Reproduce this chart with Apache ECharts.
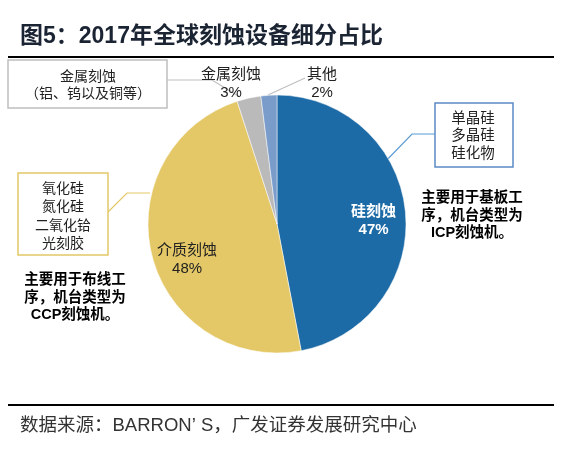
<!DOCTYPE html>
<html>
<head>
<meta charset="utf-8">
<script src="https://cdn.jsdelivr.net/npm/echarts@6/dist/echarts.min.js"></script>
<style>
html,body{margin:0;padding:0;background:#fff;}
#c{width:572px;height:451px;}
</style>
</head>
<body>
<div id="c"></div>
<script>
var categories = ['硅刻蚀', '介质刻蚀', '金属刻蚀', '其他'];
var shares = [47, 48, 3, 2];
var sliceColors = ['#1D6BA6', '#E4C867', '#BABABA', '#7A9CCB'];
var titleText = '图5：2017年全球刻蚀设备细分占比';
var sourceText = '数据来源：BARRON’ S，广发证券发展研究中心';

var FONT = '"Liberation Sans", "Noto Sans CJK SC", sans-serif';
var chart = echarts.init(document.getElementById('c'), null, {renderer: 'canvas'});

var mainData = categories.map(function (n, i) {
  return {name: n, value: shares[i], itemStyle: {color: sliceColors[i]}};
});
var labelData = categories.map(function (n, i) {
  return {
    name: n, value: shares[i],
    label: {
      show: i < 2,
      color: i === 0 ? '#ffffff' : '#222222',
      fontWeight: i === 0 ? 'bold' : 'normal'
    }
  };
});
var outsidePos = {2: [231, 84], 3: [322, 84]};
var insideShift = {0: [-2, 6], 1: [6, 11]};

function txt(text, x, y, opts) {
  opts = opts || {};
  return {
    type: 'text', silent: true,
    style: {
      text: text, x: x, y: y,
      fill: opts.color || '#222',
      fontSize: opts.size || 14,
      fontWeight: opts.weight || 'normal',
      fontFamily: FONT,
      lineHeight: opts.lh || 18,
      textAlign: opts.align || 'center',
      textVerticalAlign: 'middle'
    }
  };
}
function line(points, color, w) {
  return {type: 'polyline', silent: true, shape: {points: points},
    style: {stroke: color, lineWidth: w || 1, fill: null}};
}
function box(x, y, w, h, color) {
  return {type: 'rect', silent: true, shape: {x: x, y: y, width: w, height: h},
    style: {stroke: color, lineWidth: 1.5, fill: '#fff'}};
}

var option = {
  animation: false,
  backgroundColor: '#fff',
  series: [
    {
      type: 'pie',
      center: [277, 224],
      radius: [0, 129],
      startAngle: 90,
      clockwise: true,
      data: mainData,
      itemStyle: {borderColor: '#fff', borderWidth: 0.5},
      label: {
        show: true,
        formatter: function (p) { return p.dataIndex >= 2 ? p.name + '\n' + p.value + '%' : ''; },
        fontSize: 15, lineHeight: 18, color: '#222', fontFamily: FONT
      },
      labelLine: {show: false},
      labelLayout: function (p) {
        var pos = outsidePos[p.dataIndex];
        if (pos) return {x: pos[0], y: pos[1], align: 'center', verticalAlign: 'middle'};
        return {};
      },
      emphasis: {disabled: true}
    },
    {
      type: 'pie',
      center: [277, 224],
      radius: [63, 129],
      startAngle: 90,
      clockwise: true,
      silent: true,
      data: labelData,
      itemStyle: {color: 'rgba(0,0,0,0)'},
      label: {
        position: 'inside',
        formatter: '{b}\n{c}%',
        fontSize: 15, lineHeight: 18, fontFamily: FONT
      },
      labelLine: {show: false},
      labelLayout: function (p) {
        var s = insideShift[p.dataIndex];
        return s ? {dx: s[0], dy: s[1]} : {};
      },
      emphasis: {disabled: true}
    }
  ],
  graphic: [
    txt(titleText, 20, 37, {size: 23, weight: 'bold', color: '#1B2433', align: 'left'}),
    line([[8, 57], [554, 57]], '#000', 2),
    line([[8, 405], [554, 405]], '#000', 2),
    txt(sourceText, 20, 426, {size: 18.5, color: '#333', align: 'left'}),

    line([[167, 80], [212, 80], [240, 97]], '#BFBFBF', 1.2),
    line([[268, 95], [305, 78]], '#BFBFBF', 1.2),
    line([[108, 212], [127, 193], [150, 193]], '#E4C867', 1.2),
    line([[435, 134], [412, 134], [380, 167]], '#5B9BD5', 1.2),

    box(8, 60, 159, 48, '#BFBFBF'),
    txt('金属刻蚀\n（铝、钨以及铜等）', 88, 85.5, {size: 14, lh: 17}),
    box(18, 173, 90, 82, '#E4C867'),
    txt('氧化硅\n氮化硅\n二氧化铪\n光刻胶', 63, 216.5, {size: 14, lh: 18.3}),
    box(435, 103, 78, 64, '#5B8BC4'),
    txt('单晶硅\n多晶硅\n硅化物', 473, 136, {size: 14.5, lh: 17.5}),

    txt('主要用于基板工\n序，机台类型为\nICP刻蚀机。', 472, 215.5, {size: 14.5, weight: 'bold', color: '#000', lh: 17.5}),
    txt('主要用于布线工\n序，机台类型为\nCCP刻蚀机。', 75, 297.5, {size: 14.5, weight: 'bold', color: '#000', lh: 17.5})
  ]
};
chart.setOption(option);
</script>
</body>
</html>
